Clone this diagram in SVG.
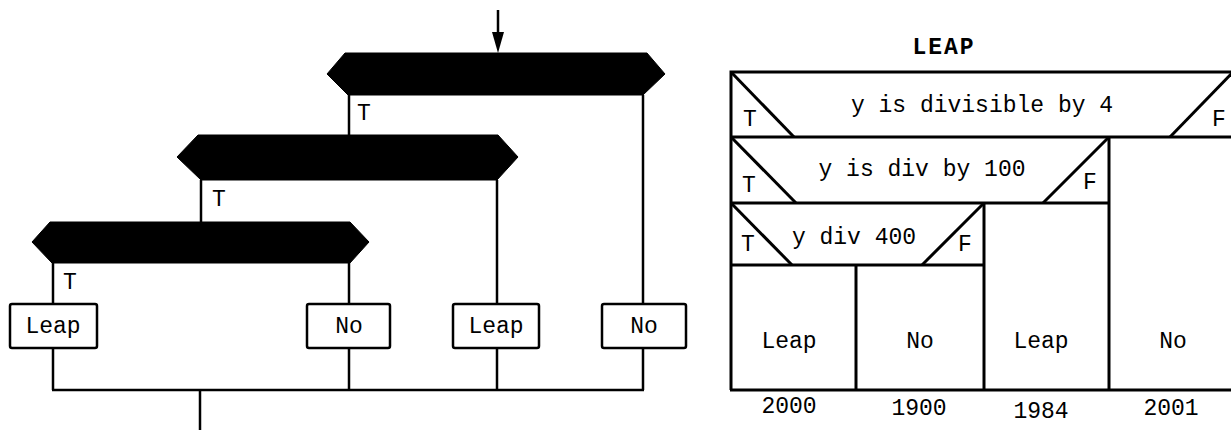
<svg xmlns="http://www.w3.org/2000/svg" width="1231" height="430" viewBox="0 0 1231 430">
  <defs>
    <marker id="arrow" viewBox="0 0 12 22" refX="6" refY="21" markerWidth="12" markerHeight="22" markerUnits="userSpaceOnUse" orient="auto-start-reverse">
      <path d="M0,0 L12,0 L6,22 Z" fill="#000"/>
    </marker>
    <style>
      text { font-family: "Liberation Mono", "DejaVu Sans Mono", monospace; font-size: 23px; fill: #000; text-anchor: middle; }
      .title { font-weight: bold; letter-spacing: 2px; }
      .hex { fill: #000; stroke: #000; stroke-width: 1; }
      .box { fill: #fff; stroke: #000; stroke-width: 2.5; }
      .wire { fill: none; stroke: #000; stroke-width: 2.5; }
      .grid { fill: none; stroke: #000; stroke-width: 3; }
    </style>
  </defs>
  <rect width="1231" height="430" fill="#fff"/>

  <!-- Flowchart: connectors -->
  <g id="connectors">
    <line class="wire" x1="498" y1="10" x2="498" y2="34"/>
    <path d="M492,32 L504,32 L498,53 Z" fill="#000"/>
    <line class="wire" x1="349" y1="95" x2="349" y2="135"/>
    <line class="wire" x1="643" y1="95" x2="643" y2="304"/>
    <line class="wire" x1="201" y1="180" x2="201" y2="222"/>
    <line class="wire" x1="497" y1="180" x2="497" y2="304"/>
    <line class="wire" x1="53" y1="263" x2="53" y2="304"/>
    <line class="wire" x1="349" y1="263" x2="349" y2="304"/>
    <line class="wire" x1="53" y1="348" x2="53" y2="390"/>
    <line class="wire" x1="349" y1="348" x2="349" y2="390"/>
    <line class="wire" x1="497" y1="348" x2="497" y2="390"/>
    <line class="wire" x1="643" y1="348" x2="643" y2="390"/>
    <line class="wire" x1="52" y1="390" x2="644" y2="390"/>
    <line class="wire" x1="200" y1="390" x2="200" y2="430"/>
  </g>

  <!-- Flowchart: decision bars -->
  <g id="decision-1">
    <polygon class="hex" points="345,53 647,53 665,74 643,95 348,95 327,74"/>
    <text x="364" y="120">T</text>
  </g>
  <g id="decision-2">
    <polygon class="hex" points="198,135 498,135 518,157 497,180 201,180 177,157"/>
    <text x="219" y="206">T</text>
  </g>
  <g id="decision-3">
    <polygon class="hex" points="50,222 350,222 369,242 350,263 52,263 32,242"/>
    <text x="70" y="289">T</text>
  </g>

  <!-- Flowchart: outcome boxes -->
  <g id="out-leap-1">
    <rect class="box" x="10" y="304" width="87" height="44" rx="2"/>
    <text x="53" y="333">Leap</text>
  </g>
  <g id="out-no-1">
    <rect class="box" x="307" y="304" width="83" height="44" rx="2"/>
    <text x="349" y="333">No</text>
  </g>
  <g id="out-leap-2">
    <rect class="box" x="453" y="304" width="86" height="44" rx="2"/>
    <text x="496" y="333">Leap</text>
  </g>
  <g id="out-no-2">
    <rect class="box" x="602" y="304" width="84" height="44" rx="2"/>
    <text x="644" y="333">No</text>
  </g>

  <!-- Nassi-Shneiderman chart -->
  <g id="ns-title">
    <text class="title" x="944" y="54">LEAP</text>
  </g>
  <g id="ns-row-1">
    <path class="grid" d="M1240,72 L731,72 L731,390 M731,137 L1240,137"/>
    <line class="grid" x1="731" y1="72" x2="794" y2="137"/>
    <line class="grid" x1="1233" y1="72" x2="1170" y2="137"/>
    <text x="982" y="112">y is divisible by 4</text>
    <text x="750" y="126">T</text>
    <text x="1219" y="126">F</text>
  </g>
  <g id="ns-row-2">
    <line class="grid" x1="731" y1="203" x2="1109" y2="203"/>
    <line class="grid" x1="1109" y1="137" x2="1109" y2="390"/>
    <line class="grid" x1="731" y1="137" x2="796" y2="203"/>
    <line class="grid" x1="1109" y1="137" x2="1043" y2="203"/>
    <text x="922" y="176">y is div by 100</text>
    <text x="749" y="192">T</text>
    <text x="1090" y="189">F</text>
  </g>
  <g id="ns-row-3">
    <line class="grid" x1="731" y1="265" x2="984" y2="265"/>
    <line class="grid" x1="984" y1="203" x2="984" y2="390"/>
    <line class="grid" x1="731" y1="203" x2="792" y2="265"/>
    <line class="grid" x1="984" y1="203" x2="922" y2="265"/>
    <line class="grid" x1="856" y1="265" x2="856" y2="390"/>
    <text x="854" y="244">y div 400</text>
    <text x="748" y="251">T</text>
    <text x="965" y="251">F</text>
  </g>
  <g id="ns-results">
    <line class="grid" x1="730" y1="390" x2="1240" y2="390"/>
    <text x="789" y="348">Leap</text>
    <text x="920" y="348">No</text>
    <text x="1041" y="348">Leap</text>
    <text x="1173" y="348">No</text>
  </g>
  <g id="ns-years">
    <text x="789" y="413">2000</text>
    <text x="919" y="415">1900</text>
    <text x="1041" y="418">1984</text>
    <text x="1171" y="415">2001</text>
  </g>
</svg>
